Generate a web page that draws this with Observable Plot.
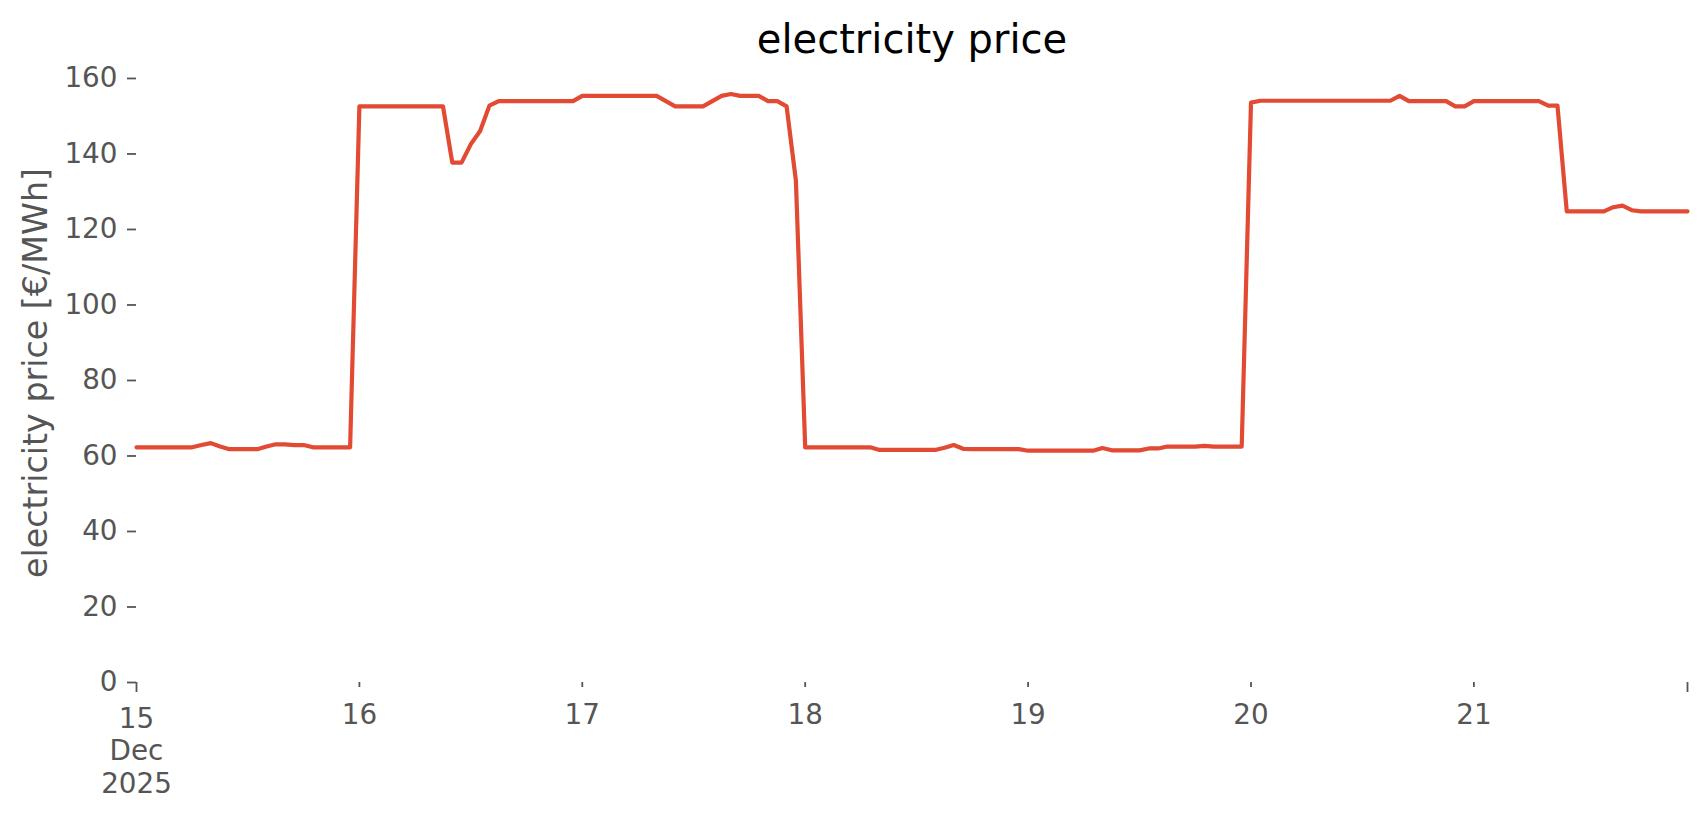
<!DOCTYPE html>
<html>
<head>
<meta charset="utf-8">
<script src="https://cdn.jsdelivr.net/npm/d3@7"></script>
<script src="https://cdn.jsdelivr.net/npm/@observablehq/plot@0.6"></script>
<style>
  html, body { margin: 0; padding: 0; background: #ffffff; }
  #chart { width: 1706px; height: 815px; }
</style>
</head>
<body>
<div id="chart"></div>
<script>
// Hourly electricity price [€/MWh], 15–21 Dec 2025 (hours 0..23 each day)
const dec15 = [62.3, 62.3, 62.3, 62.3, 62.3, 62.3, 62.3, 62.9, 63.4, 62.5, 61.8, 61.8, 61.8, 61.8, 62.5, 63.1, 63.1, 62.9, 62.9, 62.3, 62.3, 62.3, 62.3, 62.3];
const dec16 = [152.6, 152.6, 152.6, 152.6, 152.6, 152.6, 152.6, 152.6, 152.6, 152.6, 137.7, 137.7, 142.6, 146.1, 152.8, 154.0, 154.0, 154.0, 154.0, 154.0, 154.0, 154.0, 154.0, 154.0];
const dec17 = [155.4, 155.4, 155.4, 155.4, 155.4, 155.4, 155.4, 155.4, 155.4, 154.0, 152.6, 152.6, 152.6, 152.6, 154.0, 155.4, 155.9, 155.4, 155.4, 155.4, 154.0, 154.0, 152.6, 132.9];
const dec18 = [62.3, 62.3, 62.3, 62.3, 62.3, 62.3, 62.3, 62.3, 61.6, 61.6, 61.6, 61.6, 61.6, 61.6, 61.6, 62.2, 62.9, 61.9, 61.8, 61.8, 61.8, 61.8, 61.8, 61.8];
const dec19 = [61.4, 61.4, 61.4, 61.4, 61.4, 61.4, 61.4, 61.4, 62.1, 61.5, 61.5, 61.5, 61.5, 62.0, 62.0, 62.5, 62.5, 62.5, 62.5, 62.7, 62.5, 62.5, 62.5, 62.5];
const dec20 = [153.6, 154.1, 154.1, 154.1, 154.1, 154.1, 154.1, 154.1, 154.1, 154.1, 154.1, 154.1, 154.1, 154.1, 154.1, 154.1, 155.4, 154.0, 154.0, 154.0, 154.0, 154.0, 152.6, 152.6];
const dec21 = [154.0, 154.0, 154.0, 154.0, 154.0, 154.0, 154.0, 154.0, 152.8, 152.8, 124.8, 124.8, 124.8, 124.8, 124.8, 125.9, 126.3, 125.1, 124.8, 124.8, 124.8, 124.8, 124.8, 124.8];

const days = [15, 16, 17, 18, 19, 20, 21];
const dayValues = [dec15, dec16, dec17, dec18, dec19, dec20, dec21];
const yTicks = [0, 20, 40, 60, 80, 100, 120, 140, 160];
const dayTickDays = [16, 17, 18, 19, 20, 21];
const firstTickLabel = "15\nDec\n2025";
const titleText = "electricity price";
const yLabelText = "electricity price [€/MWh]";

const data = [];
days.forEach((d, i) => {
  dayValues[i].forEach((v, h) => {
    data.push({date: new Date(Date.UTC(2025, 11, d, h)), price: v});
  });
});
const start = data[0].date;
const end = data[data.length - 1].date;
const dayTicks = dayTickDays.map(d => new Date(Date.UTC(2025, 11, d)));

const font = "DejaVu Sans";
const grey = "#555555";
const W = 1706, H = 815, mL = 136, mR = 19, mT = 64, mB = 133;

const chart = Plot.plot({
  width: W,
  height: H,
  marginLeft: mL,
  marginRight: mR,
  marginTop: mT,
  marginBottom: mB,
  style: {fontFamily: font, background: "#ffffff", overflow: "visible"},
  x: {type: "utc", domain: [start, end]},
  y: {domain: [0, 163.7]},
  marks: [
    Plot.axisY({ticks: yTicks, tickSize: 9, tickPadding: 10, fontSize: 27.8, color: grey, strokeWidth: 1.8, label: null, tickFormat: d => String(d)}),
    Plot.axisX({ticks: dayTicks, anchor: "bottom", tickSize: 5, tickPadding: 17, fontSize: 27.8, color: grey, strokeWidth: 1.8, label: null, tickFormat: d => String(d.getUTCDate())}),
    Plot.axisX({ticks: [start], anchor: "bottom", tickSize: 10, tickPadding: 12, fontSize: 27.8, lineHeight: 1.17, color: grey, strokeWidth: 1.8, label: null, tickFormat: () => firstTickLabel}),
    Plot.axisX({ticks: [end], anchor: "bottom", tickSize: 10, tickPadding: 12, fontSize: 27.8, color: grey, strokeWidth: 1.8, label: null, tickFormat: () => ""}),
    Plot.line(data, {x: "date", y: "price", stroke: "#E24A33", strokeWidth: 4.2, strokeLinejoin: "round"}),
    Plot.text([titleText], {frameAnchor: "top", dy: -12, lineAnchor: "bottom", fontSize: 40, fill: "#000000"})
  ]
});

// Rotated y-axis label, centred on the plot frame
const cy = mT + (H - mT - mB) / 2;
d3.select(chart).append("text")
  .attr("transform", `translate(46.5,${cy}) rotate(-90)`)
  .attr("text-anchor", "middle")
  .attr("font-family", font)
  .attr("font-size", 33.3)
  .attr("fill", grey)
  .text(yLabelText);

document.getElementById("chart").appendChild(chart);
</script>
</body>
</html>
